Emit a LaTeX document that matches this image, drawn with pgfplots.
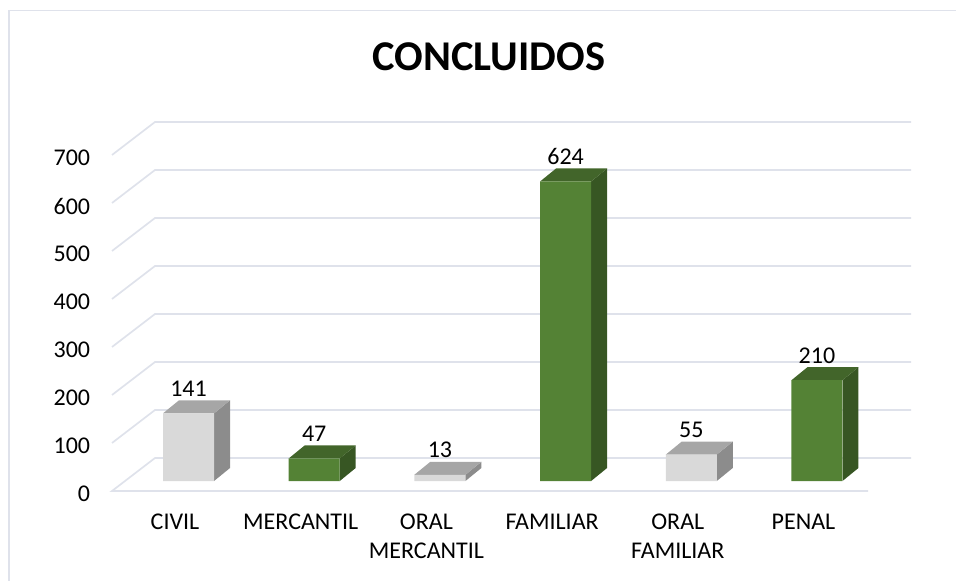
\documentclass[border=0pt]{standalone}
\usepackage{fontspec}
\setmainfont{Carlito}
\usepackage{pgfplots}
\pgfplotsset{compat=1.18}
\definecolor{gridc}{HTML}{DFE2EB}
\definecolor{gfront}{HTML}{D9D9D9}
\definecolor{gtop}{HTML}{A6A6A6}
\definecolor{gside}{HTML}{8C8C8C}
\definecolor{vfront}{HTML}{548235}
\definecolor{vtop}{HTML}{42652A}
\definecolor{vside}{HTML}{375623}
\begin{document}
\begin{tikzpicture}
\useasboundingbox (0,0) rectangle (956pt,581pt);
\draw[gridc, line width=1.5pt] (9pt,0pt) -- (9pt,570.5pt) -- (956pt,570.5pt);
\begin{axis}[
  at={(112pt,90pt)}, anchor=south west,
  scale only axis, width=799pt, height=369pt,
  xmin=-0.609, xmax=5.748, ymin=-20.83, ymax=747.92,
  clip=false,
  axis line style={draw=none},
  tick style={draw=none},
  xtick={0,1,2,3,4,5},
  xticklabels={CIVIL,MERCANTIL,{ORAL\\MERCANTIL},FAMILIAR,{ORAL\\FAMILIAR},PENAL},
  ytick={0,100,200,300,400,500,600,700},
  /pgf/number format/assume math mode=true,
  tick label style={font=\fontsize{24}{29}\selectfont},
  xticklabel style={align=center, anchor=north, inner sep=0pt, xshift=-13.5pt, yshift=-23pt},
  yticklabel style={anchor=east, inner sep=0pt, xshift=-21.7pt, yshift=-13pt},
  title=CONCLUIDOS,
  title style={at={(axis description cs:0.4718,1)}, anchor=center, yshift=59pt,
    font=\fontsize{42.4}{43}\selectfont\bfseries},
  every node near coord/.style={font=\fontsize{24}{24}\selectfont, anchor=center, yshift=24.5pt, inner sep=0pt},
]
% walls: left wing and back line for every 100
\pgfplotsset{wall/.style={gridc, line width=1.7pt, no markers, forget plot}}
\addplot[wall] coordinates {(5.406,-20.8) (-0.609,-20.8) (-0.267,47.9) (5.748,47.9)};
\addplot[wall] coordinates {(-0.609,79.2) (-0.267,147.9) (5.748,147.9)};
\addplot[wall] coordinates {(-0.609,179.2) (-0.267,247.9) (5.748,247.9)};
\addplot[wall] coordinates {(-0.609,279.2) (-0.267,347.9) (5.748,347.9)};
\addplot[wall] coordinates {(-0.609,379.2) (-0.267,447.9) (5.748,447.9)};
\addplot[wall] coordinates {(-0.609,479.2) (-0.267,547.9) (5.748,547.9)};
\addplot[wall] coordinates {(-0.609,579.2) (-0.267,647.9) (5.748,647.9)};
\addplot[wall] coordinates {(-0.609,679.2) (-0.267,747.9) (5.748,747.9)};
% side faces
\addplot[fill=gside, draw=none, forget plot] coordinates {(0.203,0) (0.203,141) (0.33,168.1) (0.33,27.1)} -- cycle;
\addplot[fill=vside, draw=none, forget plot] coordinates {(1.203,0) (1.203,47) (1.33,74.1) (1.33,27.1)} -- cycle;
\addplot[fill=gside, draw=none, forget plot] coordinates {(2.203,0) (2.203,13) (2.33,40.1) (2.33,27.1)} -- cycle;
\addplot[fill=vside, draw=none, forget plot] coordinates {(3.203,0) (3.203,624) (3.33,651.1) (3.33,27.1)} -- cycle;
\addplot[fill=gside, draw=none, forget plot] coordinates {(4.203,0) (4.203,55) (4.33,82.1) (4.33,27.1)} -- cycle;
\addplot[fill=vside, draw=none, forget plot] coordinates {(5.203,0) (5.203,210) (5.33,237.1) (5.33,27.1)} -- cycle;
% top faces
\addplot[fill=gtop, draw=none, forget plot] coordinates {(-0.203,141) (0.203,141) (0.33,168.1) (-0.076,168.1)} -- cycle;
\addplot[fill=vtop, draw=none, forget plot] coordinates {(0.797,47) (1.203,47) (1.33,74.1) (0.924,74.1)} -- cycle;
\addplot[fill=gtop, draw=none, forget plot] coordinates {(1.797,13) (2.203,13) (2.33,40.1) (1.924,40.1)} -- cycle;
\addplot[fill=vtop, draw=none, forget plot] coordinates {(2.797,624) (3.203,624) (3.33,651.1) (2.924,651.1)} -- cycle;
\addplot[fill=gtop, draw=none, forget plot] coordinates {(3.797,55) (4.203,55) (4.33,82.1) (3.924,82.1)} -- cycle;
\addplot[fill=vtop, draw=none, forget plot] coordinates {(4.797,210) (5.203,210) (5.33,237.1) (4.924,237.1)} -- cycle;
% front faces
\addplot[ybar, bar width=51pt, bar shift=0pt, fill=gfront, draw=none, nodes near coords]
  coordinates {(0,141) (2,13) (4,55)};
\addplot[ybar, bar width=51pt, bar shift=0pt, fill=vfront, draw=none, nodes near coords]
  coordinates {(1,47) (3,624) (5,210)};
\end{axis}
\end{tikzpicture}
\end{document}
